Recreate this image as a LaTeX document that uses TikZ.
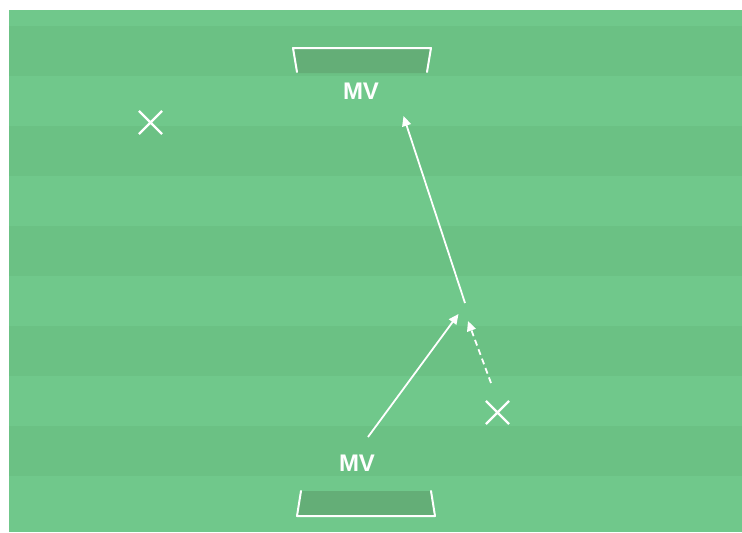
\documentclass[tikz,border=0pt]{standalone}
\usepackage{fontspec}
\setmainfont{Liberation Sans}
\usetikzlibrary{arrows.meta,shapes.misc}
\definecolor{pitchlight}{HTML}{70C88B}
\definecolor{pitchdark}{HTML}{6BC184}
\definecolor{goalfill}{HTML}{64AE77}
\tikzset{
  line/.style={white, line width=1.8pt},
  pass/.style={line, -{Triangle[length=10pt,width=9pt]}},
  run/.style={pass, dash pattern=on 6pt off 4pt},
  player/.style={cross out, draw=white, line width=2.2pt, minimum size=21pt, inner sep=0pt},
  mvlabel/.style={text=white, font=\bfseries\fontsize{24pt}{26pt}\selectfont, inner sep=0pt},
  post/.style={white, line width=2pt, line cap=round, line join=round},
}
\begin{document}
\begin{tikzpicture}[x=1pt,y=-1pt]
\useasboundingbox (0,0) rectangle (742,533);
\fill[white] (0,0) rectangle (742,533);
% pitch with stripes
\fill[pitchlight] (9,10) rectangle (742,532);
\foreach \y in {26,126,226,326,426}{
  \fill[pitchdark] (9,\y) rectangle (742,\y+50);
}
% top goal
\fill[goalfill] (294,49) -- (430,49) -- (427,73) -- (297,73) -- cycle;
\draw[post] (297,72) -- (293,48) -- (431,48) -- (427,72);
% bottom goal
\fill[goalfill] (301,491) -- (430,491) -- (434,515) -- (298,515) -- cycle;
\draw[post] (301,491) -- (297,516) -- (435,516) -- (431,491);
% labels
\node[mvlabel] (mvtop) at (361,91) {MV};
\node[mvlabel] (mvbot) at (357,463) {MV};
% players
\node[player] (p1) at (150.5,122.5) {};
\node[player] (p2) at (497.5,412.5) {};
% arrow points
\coordinate (a1s) at (368,437);
\coordinate (a1e) at (458.5,314);
\coordinate (a2s) at (465,303);
\coordinate (a2e) at (403.5,116);
\coordinate (a3s) at (491,383);
\coordinate (a3e) at (468,321);
\draw[pass] (a1s) -- (a1e);
\draw[pass] (a2s) -- (a2e);
\draw[run] (a3s) -- (a3e);
\end{tikzpicture}
\end{document}
